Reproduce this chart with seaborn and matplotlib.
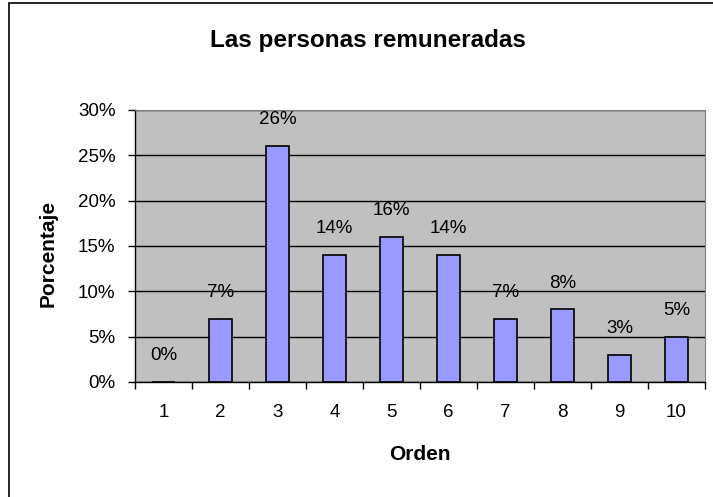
import numpy as np
import pandas as pd
import seaborn as sns
import matplotlib.pyplot as plt
from matplotlib.patches import Rectangle

orden = ['1', '2', '3', '4', '5', '6', '7', '8', '9', '10']
porcentaje = [0, 7, 26, 14, 16, 14, 7, 8, 3, 5]
y_ticks = [0, 5, 10, 15, 20, 25, 30]

df = pd.DataFrame({'Orden': orden, 'Porcentaje': porcentaje})

sns.set_style('white')
plt.rcParams['font.family'] = ['Liberation Sans', 'DejaVu Sans']
plt.rcParams['text.color'] = 'black'
plt.rcParams['xtick.color'] = 'black'
plt.rcParams['ytick.color'] = 'black'

W, H = 713, 497
fig = plt.figure(figsize=(W / 100, H / 100), dpi=100)
fig.patch.set_facecolor('white')

# outer chart border (only left/top visible in the crop)
fig.patches.append(Rectangle((9 / W, -0.1), 1.2, (H - 3) / H + 0.1, transform=fig.transFigure,
                             fill=False, edgecolor='black', linewidth=1.2))

ax = fig.add_axes([135 / W, (H - 382) / H, 570 / W, 272 / H])
ax.set_facecolor('#C0C0C0')
ax.set_axisbelow(True)

sns.barplot(data=df, x='Orden', y='Porcentaje', order=orden, color='#9999FF',
            width=0.39, edgecolor='black', linewidth=1.2, saturation=1, ax=ax)

ax.set_xlim(-0.5, len(orden) - 0.5)
ax.set_ylim(0, 30)
ax.set_yticks(y_ticks)
ax.set_yticklabels([f'{t}%' for t in y_ticks], fontsize=13.5)
ax.yaxis.grid(True, color='black', linewidth=1)
ax.tick_params(axis='y', which='major', left=True, length=5, width=1, color='black', pad=9)

ax.set_xticks(range(len(orden)))
ax.set_xticklabels(orden, fontsize=13.5)
ax.tick_params(axis='x', which='major', bottom=False, length=0, pad=16)
ax.set_xticks(np.arange(-0.5, len(orden), 1), minor=True)
ax.tick_params(axis='x', which='minor', bottom=True, length=5, width=1, color='black')

for s in ['top', 'right']:
    ax.spines[s].set_color('#808080')
for s in ['left', 'bottom']:
    ax.spines[s].set_color('black')
    ax.spines[s].set_linewidth(1)

for i, v in enumerate(porcentaje):
    ax.annotate(f'{v}%', (i, v), xytext=(0, 19), textcoords='offset points',
                ha='center', va='center', fontsize=13.5)

ax.set_xlabel('')
ax.set_ylabel('')
fig.text(48 / W, 1 - 253 / H, 'Porcentaje', rotation=90, ha='center', va='center',
         fontsize=15, fontweight='bold')
fig.text(420 / W, 1 - 455 / H, 'Orden', ha='center', va='center',
         fontsize=15, fontweight='bold')
fig.text(368 / W, 1 - 41 / H, 'Las personas remuneradas', ha='center', va='center',
         fontsize=17.5, fontweight='bold')

fig.savefig('out.png', dpi=100)
